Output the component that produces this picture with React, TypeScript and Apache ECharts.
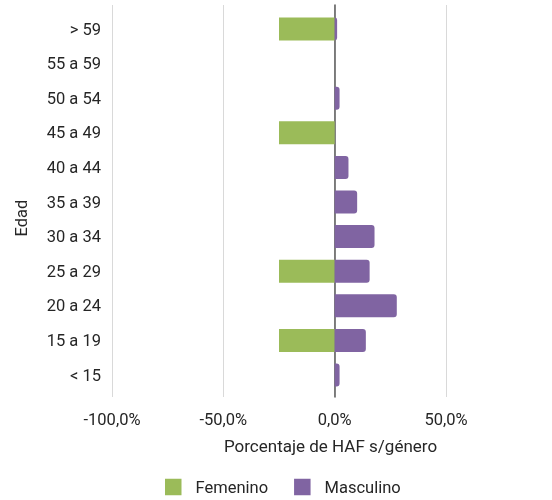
import React, { useEffect, useRef } from "react";
import * as echarts from "echarts";

const categories = ["< 15", "15 a 19", "20 a 24", "25 a 29", "30 a 34", "35 a 39", "40 a 44", "45 a 49", "50 a 54", "55 a 59", "> 59"];
const femenino = [0, -25, 0, -25, 0, 0, 0, -25, 0, 0, -25];
const masculino = [2.2, 14.0, 27.9, 15.7, 17.9, 10.1, 6.2, 0, 2.2, 0, 1.1];
const xTicks = { min: -100, max: 50, interval: 50 };
const seriesNames = ["Femenino", "Masculino"];
const xTitle = "Porcentaje de HAF s/género";
const yTitle = "Edad";

const FONT = "Roboto";
const TEXT = "#262626";

export default function App() {
  const ref = useRef<HTMLDivElement>(null);
  useEffect(() => {
    if (!ref.current) return;
    const chart = echarts.init(ref.current, undefined, { renderer: "svg" });
    const fmt = (v: number) => v.toFixed(1).replace(".", ",") + "%";
    chart.setOption({
      animation: false,
      textStyle: { fontFamily: FONT },
      grid: [
        { left: 112, right: 106, top: 5, bottom: 103 },
        { left: 112, right: 106, top: 11.7, bottom: 107.7 },
      ],
      xAxis: [
        {
          type: "value",
          gridIndex: 0,
          min: xTicks.min,
          max: xTicks.max,
          interval: xTicks.interval,
          axisLine: { show: false },
          axisTick: { show: false },
          splitLine: { show: true, lineStyle: { color: "#d9d9d9", width: 1 } },
          axisLabel: { formatter: fmt, color: TEXT, fontSize: 16.5, margin: 14, fontFamily: FONT },
        },
        {
          type: "value",
          gridIndex: 1,
          min: xTicks.min,
          max: xTicks.max,
          interval: xTicks.interval,
          show: false,
        },
      ],
      yAxis: [
        {
          type: "value",
          gridIndex: 0,
          min: 0,
          max: 1,
          axisLine: { show: true, onZero: true, lineStyle: { color: "#595959", width: 1.5 } },
          axisTick: { show: false },
          axisLabel: { show: false },
          splitLine: { show: false },
        },
        {
          type: "category",
          gridIndex: 1,
          data: categories,
          axisLine: { show: false },
          axisTick: { show: false },
          splitLine: { show: false },
          axisLabel: { color: TEXT, fontSize: 16.5, margin: 11, fontFamily: FONT },
        },
      ],
      graphic: [
        {
          type: "text",
          x: 330.5,
          y: 446,
          style: { text: xTitle, fill: TEXT, font: `17px ${FONT}`, textAlign: "center", textVerticalAlign: "middle" },
        },
        {
          type: "text",
          x: 21,
          y: 218,
          rotation: Math.PI / 2,
          style: { text: yTitle, fill: TEXT, font: `16.5px ${FONT}`, textAlign: "center", textVerticalAlign: "middle" },
        },
      ],
      legend: {
        data: seriesNames,
        left: 165,
        top: 478.5,
        padding: 0,
        icon: "rect",
        itemWidth: 16.5,
        itemHeight: 16.5,
        itemGap: 26,
        textStyle: { color: TEXT, fontSize: 16.5, fontFamily: FONT, padding: [0, 0, 0, 9] },
      },
      series: [
        {
          name: seriesNames[0],
          type: "bar",
          xAxisIndex: 1,
          yAxisIndex: 1,
          data: femenino,
          barWidth: 23,
          barGap: "-100%",
          itemStyle: { color: "#9BBB59" },
        },
        {
          name: seriesNames[1],
          type: "bar",
          xAxisIndex: 1,
          yAxisIndex: 1,
          data: masculino,
          barWidth: 23,
          barGap: "-100%",
          itemStyle: { color: "#8064A2", borderRadius: [0, 3, 3, 0] },
        },
      ],
    });
    return () => chart.dispose();
  }, []);
  return <div ref={ref} style={{ position: "fixed", left: 0, top: 0, width: 552, height: 500 }} />;
}
